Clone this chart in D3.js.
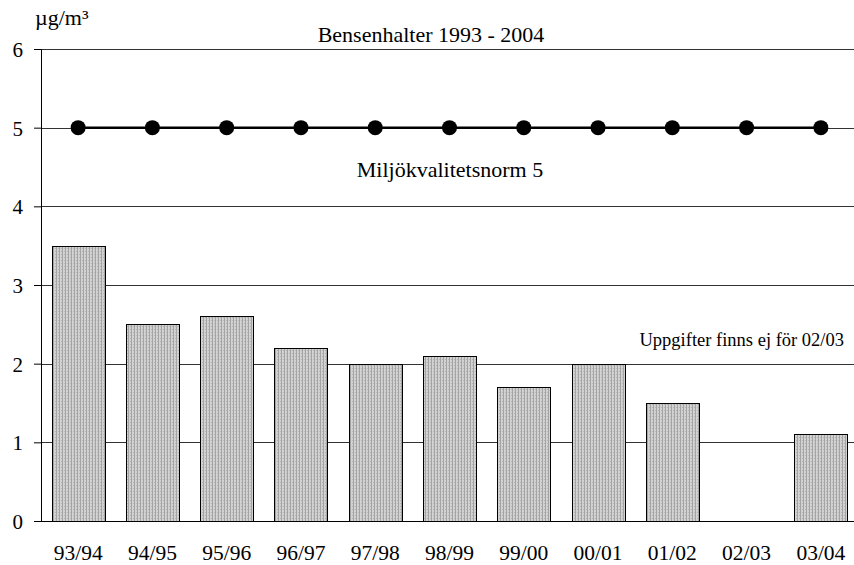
<!DOCTYPE html>
<html>
<head>
<meta charset="utf-8">
<script src="https://cdn.jsdelivr.net/npm/d3@7"></script>
<style>
  body { margin: 0; background: #fff; }
</style>
</head>
<body>
<div id="chart"></div>
<script>
// chart data
const seasons = ["93/94", "94/95", "95/96", "96/97", "97/98", "98/99", "99/00", "00/01", "01/02", "02/03", "03/04"];
const benzene = [3.5, 2.5, 2.6, 2.2, 2.0, 2.1, 1.7, 2.0, 1.5, null, 1.1];
const normValues = [5, 5, 5, 5, 5, 5, 5, 5, 5, 5, 5];
const yTicks = [0, 1, 2, 3, 4, 5, 6];

const FONT = "Liberation Serif";

const W = 854, H = 565;
const margin = { top: 49, right: -4, bottom: 44, left: 41 },
  width = W - margin.left - margin.right,
  height = H - margin.top - margin.bottom;

const svg = d3.select("#chart")
  .append("svg")
  .attr("width", W)
  .attr("height", H)
  .attr("font-family", FONT);

// dotted grey fill of the bars
const defs = svg.append("defs");
const pat = defs.append("pattern")
  .attr("id", "dots")
  .attr("patternUnits", "userSpaceOnUse")
  .attr("width", 3)
  .attr("height", 3);
pat.append("rect").attr("width", 3).attr("height", 3).attr("fill", "#d2d2d2");
pat.append("rect").attr("x", 0).attr("width", 1).attr("height", 3).attr("fill", "#a4a4a4");
pat.append("rect").attr("x", 2).attr("y", 1).attr("width", 1).attr("height", 1).attr("fill", "#b4b4b4");

const g = svg.append("g")
  .attr("transform", "translate(" + margin.left + "," + margin.top + ")");

const x = d3.scaleBand()
  .domain(seasons)
  .range([0, width])
  .paddingInner(0.287)
  .paddingOuter(0.1435);

const y = d3.scaleLinear()
  .domain([0, 6])
  .range([height, 0]);

// horizontal gridlines
g.append("g")
  .selectAll("line")
  .data(yTicks.filter(d => d > 0))
  .enter()
  .append("line")
  .attr("x1", 0)
  .attr("x2", W)
  .attr("y1", d => Math.round(y(d)) + 0.5)
  .attr("y2", d => Math.round(y(d)) + 0.5)
  .attr("stroke", "#333")
  .attr("stroke-width", 1);

// bars
g.append("g")
  .selectAll("rect")
  .data(seasons.map((s, i) => ({ s: s, v: benzene[i] })).filter(d => d.v != null))
  .enter()
  .append("rect")
  .attr("x", d => Math.round(x(d.s)) + 0.5)
  .attr("y", d => Math.round(y(d.v)) + 0.5)
  .attr("width", Math.round(x.bandwidth()))
  .attr("height", d => Math.round(y(0)) - Math.round(y(d.v)))
  .attr("fill", "url(#dots)")
  .attr("stroke", "#000")
  .attr("stroke-width", 1);

// y axis
const yAxis = g.append("g")
  .call(d3.axisLeft(y).tickValues(yTicks).tickSize(7).tickPadding(11).tickFormat(d3.format("d")));
yAxis.attr("font-family", FONT).attr("font-size", 21);
yAxis.select(".domain").remove();
yAxis.selectAll(".tick line").attr("stroke", "#000");
yAxis.selectAll(".tick text").attr("dy", "0.35em");
g.append("line")
  .attr("x1", 0.5).attr("x2", 0.5)
  .attr("y1", 0).attr("y2", height)
  .attr("stroke", "#000");

// x axis
const xAxis = g.append("g")
  .attr("transform", "translate(0," + height + ")")
  .call(d3.axisBottom(x).tickSize(0).tickPadding(24));
xAxis.attr("font-family", FONT).attr("font-size", 21.5);
xAxis.select(".domain").remove();
g.append("line")
  .attr("x1", -7).attr("x2", W)
  .attr("y1", Math.round(height) + 0.5).attr("y2", Math.round(height) + 0.5)
  .attr("stroke", "#000");

// norm line with markers
const line = d3.line()
  .x((d, i) => x(seasons[i]) + x.bandwidth() / 2)
  .y(d => y(d));
g.append("path")
  .datum(normValues)
  .attr("d", line)
  .attr("fill", "none")
  .attr("stroke", "#000")
  .attr("stroke-width", 2.5);
g.append("g")
  .selectAll("circle")
  .data(normValues)
  .enter()
  .append("circle")
  .attr("cx", (d, i) => x(seasons[i]) + x.bandwidth() / 2)
  .attr("cy", d => y(d))
  .attr("r", 7.5)
  .attr("fill", "#000");

// texts
function label(tx, ty, anchor, size, str) {
  svg.append("text")
    .attr("x", tx)
    .attr("y", ty)
    .attr("text-anchor", anchor)
    .attr("font-family", FONT)
    .attr("font-size", size)
    .text(str);
}
label(431, 42, "middle", 22, "Bensenhalter 1993 - 2004");
label(450, 177, "middle", 22, "Miljökvalitetsnorm 5");
label(844, 346, "end", 18.5, "Uppgifter finns ej för 02/03");
label(35, 25, "start", 22, "µg/m³");
</script>
</body>
</html>
